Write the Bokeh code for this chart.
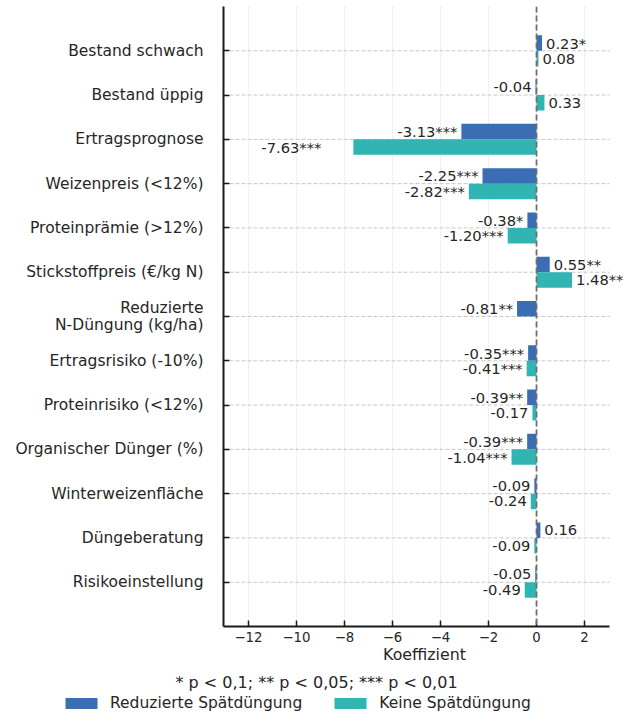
import math
from bokeh.plotting import figure
from bokeh.layouts import column
from bokeh.models import (Range1d, FixedTicker, ColumnDataSource, Span, Legend,
                          LegendItem, Label)
from bokeh.transform import dodge
from bokeh.embed import file_html
from bokeh.resources import INLINE
from bokeh.core.properties import value

# ---------------- data ----------------
categories = [
    "Bestand schwach",
    "Bestand üppig",
    "Ertragsprognose",
    "Weizenpreis (<12%)",
    "Proteinprämie (>12%)",
    "Stickstoffpreis (€/kg N)",
    "Reduzierte\nN-Düngung (kg/ha)",
    "Ertragsrisiko (-10%)",
    "Proteinrisiko (<12%)",
    "Organischer Dünger (%)",
    "Winterweizenfläche",
    "Düngeberatung",
    "Risikoeinstellung",
]
reduzierte = [0.23, -0.04, -3.13, -2.25, -0.38, 0.55, -0.81, -0.35, -0.39, -0.39, -0.09, 0.16, -0.05]
reduzierte_sig = ["*", "", "***", "***", "*", "**", "**", "***", "**", "***", "", "", ""]
keine = [0.08, 0.33, -7.63, -2.82, -1.20, 1.48, float("nan"), -0.41, -0.17, -1.04, -0.24, -0.09, -0.49]
keine_sig = ["", "", "***", "***", "***", "**", "", "***", "", "***", "", "", ""]
x_ticks = [-12, -10, -8, -6, -4, -2, 0, 2]
x_tick_labels = ["−12", "−10", "−8", "−6", "−4", "−2", "0", "2"]
x_limits = (-13.04, 3.04)
series_names = ["Reduzierte Spätdüngung", "Keine Spätdüngung"]
footnote = "* p < 0,1; ** p < 0,05; *** p < 0,01"
x_label = "Koeffizient"

BLUE = "#3a6db4"
TEAL = "#30b5b2"
FONT = "DejaVu Sans"
TXT = "#262626"

# extra label shift (px) for the long teal Ertragsprognose label, as in the reference
label_extra_shift = {("keine", "Ertragsprognose"): -28}

pos = list(range(len(categories)))


def make_source(vals, sigs, key):
    rows = [(p_, v, s) for p_, v, s in zip(pos, vals, sigs) if not math.isnan(v)]
    return ColumnDataSource(dict(
        y=[r[0] for r in rows],
        v=[r[1] for r in rows],
        label=[f"{r[1]:.2f}{r[2]}" for r in rows],
        align=["left" if r[1] >= 0 else "right" for r in rows],
        xoff=[(4 if r[1] >= 0 else -4) + label_extra_shift.get((key, categories[r[0]]), 0)
              for r in rows],
    ))


src_r = make_source(reduzierte, reduzierte_sig, "reduzierte")
src_k = make_source(keine, keine_sig, "keine")

# frame: x 223..625 px (axis itself ends at 609), y 6..626 px
p = figure(width=628, height=670, output_backend="svg", toolbar_location=None,
           title=None,
           x_range=Range1d(x_limits[0], x_limits[1] + 16 / 24), y_range=Range1d(13, -1),
           min_border_left=223, min_border_right=3, min_border_top=6,
           min_border_bottom=44)
p.outline_line_color = None
p.background_fill_color = "white"
p.border_fill_color = "white"

# grids
p.xgrid.ticker = FixedTicker(ticks=x_ticks)
p.xgrid.grid_line_color = "#d4d4d4"
p.xgrid.grid_line_dash = "1 2"
p.xgrid.grid_line_width = 1
p.ygrid.grid_line_color = None
p.segment(x0=x_limits[0], x1=x_limits[1], y0=pos, y1=pos,
          line_color="#c8c8c8", line_dash="4 2", line_width=1)

# bars
r_bar = p.hbar(y=dodge("y", -0.175, range=p.y_range), left=0, right="v", height=0.35,
               source=src_r, fill_color=BLUE, line_color=None)
k_bar = p.hbar(y=dodge("y", 0.175, range=p.y_range), left=0, right="v", height=0.35,
               source=src_k, fill_color=TEAL, line_color=None)

# value labels
for src, off in ((src_r, -0.175), (src_k, 0.175)):
    p.text(x="v", y=dodge("y", off, range=p.y_range), text="label", source=src,
           text_align="align", x_offset="xoff", text_baseline="middle",
           text_font=value(FONT), text_font_size="14.7px", text_color=TXT)

# zero line
p.add_layout(Span(location=0, dimension="height", line_color="#6f6f6f",
                  line_dash="6 3", line_width=1.8))

# axes
xa = p.xaxis[0]
xa.ticker = FixedTicker(ticks=x_ticks)
xa.bounds = x_limits
xa.major_label_overrides = {t: l for t, l in zip(x_ticks, x_tick_labels)}
xa.axis_label = x_label
ya = p.yaxis[0]
ya.ticker = FixedTicker(ticks=pos)
ya.major_label_overrides = {i: c for i, c in zip(pos, categories)}

for ax in (xa, ya):
    ax.axis_line_color = "#1a1a1a"
    ax.axis_line_width = 2
    ax.major_tick_in = 6
    ax.major_tick_out = 0
    ax.major_tick_line_color = "#1a1a1a"
    ax.major_tick_line_width = 1.5
    ax.minor_tick_line_color = None
    ax.major_label_text_font = FONT
    ax.major_label_text_color = TXT
    ax.axis_label_text_font = FONT
    ax.axis_label_text_color = TXT
    ax.axis_label_text_font_style = "normal"

xa.major_label_text_font_size = "13.3px"
xa.major_label_standoff = 5
xa.axis_label_text_font_size = "15.8px"
xa.axis_label_standoff = 0
ya.major_label_text_font_size = "15.5px"
ya.major_label_standoff = 20
ya.major_label_text_line_height = 0.92

# ---------------- footnote + legend strip ----------------
# a plain pixel canvas (0..628 x 100..144); the legend's sample bars lie below it
lf = figure(width=628, height=44, output_backend="svg", toolbar_location=None,
            title=None, x_axis_type=None, y_axis_type=None,
            x_range=Range1d(0, 628), y_range=Range1d(100, 144),
            min_border=0, min_border_left=0, min_border_right=0,
            min_border_top=0, min_border_bottom=0)
lf.frame_align = False
lf.outline_line_color = None
lf.xgrid.grid_line_color = None
lf.ygrid.grid_line_color = None
lf.add_layout(Label(x=316, y=132, text=footnote, text_align="center",
                    text_baseline="middle", text_font=FONT,
                    text_font_size="16px", text_color=TXT))
lr = lf.hbar(y="y", right="v", left=0, height=0.35, source=src_r,
             fill_color=BLUE, line_color=None)
lk = lf.hbar(y="y", right="v", left=0, height=0.35, source=src_k,
             fill_color=TEAL, line_color=None)
legend = Legend(items=[LegendItem(label=series_names[0], renderers=[lr]),
                       LegendItem(label=series_names[1], renderers=[lk])],
                orientation="horizontal", location=(61, 2),
                padding=0, margin=0, spacing=28, label_standoff=9,
                glyph_width=40, glyph_height=14,
                border_line_color=None, background_fill_alpha=0,
                label_text_font=FONT, label_text_font_size="15.5px",
                label_text_color=TXT)
lf.add_layout(legend, "center")

page = column(p, lf, spacing=0)
open("out.html", "w").write(file_html(page, INLINE))
